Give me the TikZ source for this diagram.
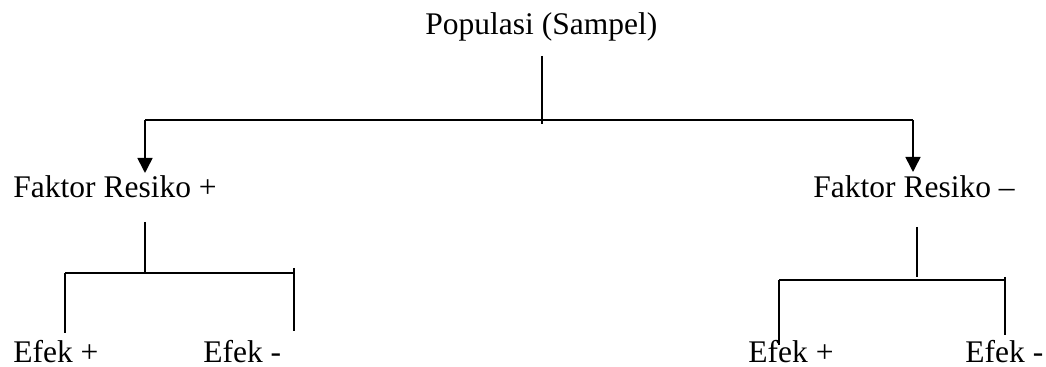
\documentclass[tikz,border=0pt]{standalone}
\usepackage{fontspec}
\setmainfont{Liberation Serif}
\usetikzlibrary{arrows.meta}
\begin{document}
\begin{tikzpicture}[x=0.5pt,y=-0.5pt,
  lbl/.style={inner sep=0pt,anchor=base west,font=\fontsize{15.75}{18}\selectfont},
  vline/.style={line width=0.8pt},
  hline/.style={line width=1.3pt},
  arr/.style={line width=0.8pt,-{Triangle[width=7.5pt,length=7.5pt]}}]
\useasboundingbox (0,0) rectangle (1046,367);
% texts
\node[lbl] (pop) at (425,35) {Populasi (Sampel)};
\node[lbl] (fp) at (13,198) {Faktor Resiko +};
\node[lbl] (fm) at (813,198) {Faktor Resiko –};
\node[lbl] (epp) at (13,363) {Efek +};
\node[lbl] (epm) at (203,363) {Efek -};
\node[lbl] (emp) at (748,363) {Efek +};
\node[lbl] (emm) at (965,363) {Efek -};
% junction coordinates
\coordinate (ta) at (542,56);
\coordinate (tb) at (542,124);
\coordinate (hl) at (145,120);
\coordinate (hr) at (913,120);
\coordinate (al) at (145,173);
\coordinate (ar) at (913,172);
% left subtree
\coordinate (la) at (145,222);
\coordinate (lb) at (145,272);
\coordinate (ll) at (65,273);
\coordinate (lr) at (294,273);
\coordinate (lrt) at (294,268);
\coordinate (lle) at (65,333);
\coordinate (lre) at (294,331);
% right subtree
\coordinate (ra) at (917,227);
\coordinate (rb) at (917,277);
\coordinate (rl) at (779,280);
\coordinate (rr) at (1005,280);
\coordinate (rrt) at (1005,277);
\coordinate (rle) at (779,345);
\coordinate (rre) at (1005,335);
% top
\draw[vline] (ta) -- (tb);
\draw[hline] (hl) -- (hr);
\draw[arr] (hl) -- (al);
\draw[arr] (hr) -- (ar);
% left
\draw[vline] (la) -- (lb);
\draw[hline] (ll) -- (lr);
\draw[vline] (ll) -- (lle);
\draw[vline] (lrt) -- (lre);
% right
\draw[vline] (ra) -- (rb);
\draw[hline] (rl) -- (rr);
\draw[vline] (rl) -- (rle);
\draw[vline] (rrt) -- (rre);
\end{tikzpicture}
\end{document}
